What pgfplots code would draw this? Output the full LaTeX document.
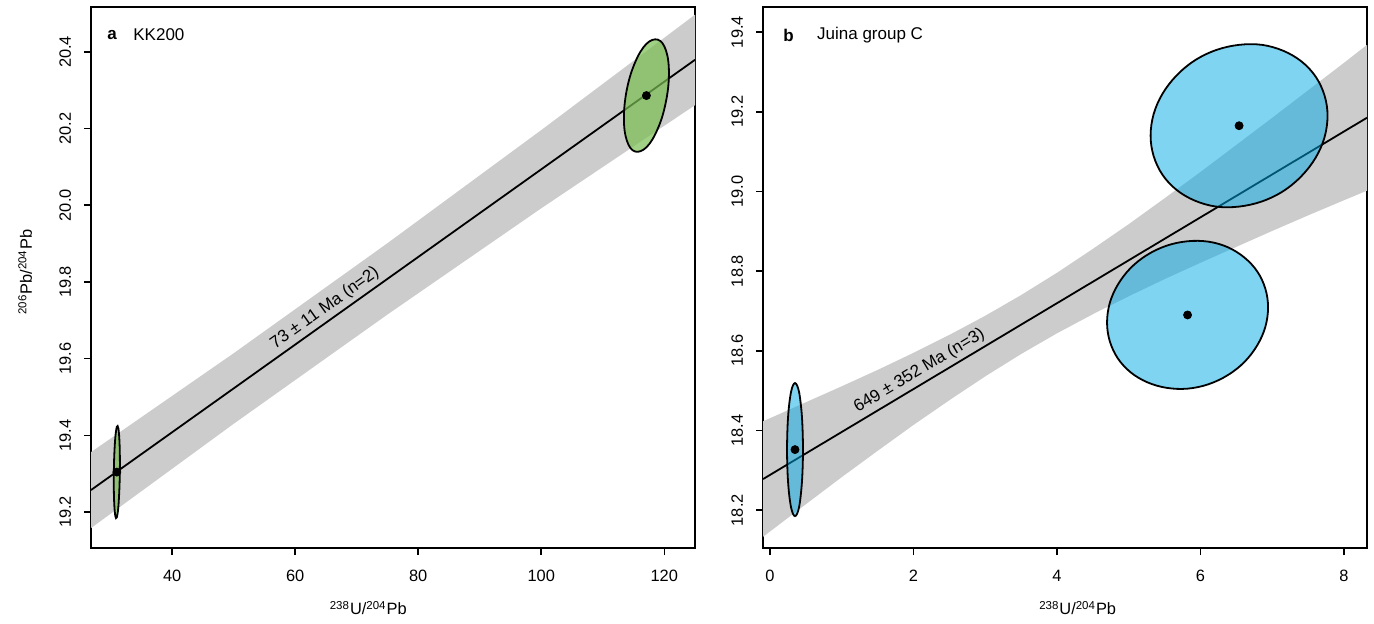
\documentclass[border=0pt]{standalone}
\usepackage{fontspec}
\setmainfont{Liberation Sans}
\usepackage{pgfplots}
\pgfplotsset{compat=1.18}
\definecolor{bandgray}{RGB}{204,204,204}
\definecolor{kkgreen}{RGB}{120,190,80}
\definecolor{juinablue}{RGB}{0,170,230}
\pgfplotsset{
  rstyle/.style={
    scale only axis, width=302pt, height=270.5pt, anchor=south west,
    /pgf/number format/assume math mode=true,
    font=\fontsize{8.2}{10}\selectfont,
    axis line style={line width=0.75pt},
    every tick/.style={black, line width=0.75pt},
    major tick length=3.5pt, tick align=outside,
    xtick pos=bottom, ytick pos=left,
    yticklabel style={rotate=90, anchor=south, /pgf/number format/.cd, fixed, fixed zerofill, precision=1},
    xticklabel shift=4pt, yticklabel shift=3pt,
    every axis y label/.append style={at={(axis description cs:-0.109,0.51)}, anchor=center},
  },
  ell/.style={smooth cycle, tension=0.6, draw=black, line width=0.9pt},
}
\begin{document}
\begin{tikzpicture}
\useasboundingbox (0,0) rectangle (687pt,311.5pt);
% panel a
\begin{axis}[rstyle, at={(45.5pt,37.5pt)},
  xmin=26.8, xmax=125, ymin=19.106, ymax=20.517,
  xtick={40,60,80,100,120}, ytick={19.2,19.4,19.6,19.8,20.0,20.2,20.4},
  xlabel={\textsuperscript{238}U/\textsuperscript{204}Pb},
  ylabel={\textsuperscript{206}Pb/\textsuperscript{204}Pb},
  every axis x label/.append style={at={(axis description cs:0.459,-0.111)}, anchor=center},
]
\addplot[fill=bandgray, draw=none] coordinates {
  (26.8,19.356) (50,19.614) (75,19.901) (100,20.196) (125,20.497)
  (125,20.261) (100,19.992) (75,19.715) (50,19.430) (26.8,19.158)} -- cycle;
\addplot[black, line width=0.9pt] coordinates {(26.8,19.2572) (125,20.3793)};
\addplot[ell, fill=kkgreen, fill opacity=0.7] coordinates {
  (31.50,19.328) (31.48,19.358) (31.43,19.384) (31.35,19.404) (31.25,19.418) (31.13,19.424)
  (31.00,19.422) (30.87,19.411) (30.75,19.394) (30.65,19.370) (30.57,19.342) (30.52,19.311)
  (30.50,19.280) (30.52,19.250) (30.57,19.224) (30.65,19.204) (30.75,19.190) (30.87,19.184)
  (31.00,19.186) (31.13,19.197) (31.25,19.214) (31.35,19.238) (31.43,19.266) (31.48,19.297)};
\addplot[ell, fill=kkgreen, fill opacity=0.7] coordinates {
  (120.76,20.345) (120.64,20.378) (120.27,20.404) (119.69,20.423) (118.93,20.432) (118.05,20.431)
  (117.10,20.421) (116.15,20.401) (115.27,20.373) (114.51,20.340) (113.93,20.303) (113.56,20.264)
  (113.44,20.227) (113.56,20.194) (113.93,20.168) (114.51,20.149) (115.27,20.140) (116.15,20.141)
  (117.10,20.151) (118.05,20.171) (118.93,20.199) (119.69,20.232) (120.27,20.270) (120.64,20.308)};
\addplot[only marks, mark=*, mark size=2pt, black] coordinates {(31.0,19.304) (117.1,20.286)};
\node[anchor=south, rotate=35.5, inner sep=2pt, font=\fontsize{8.5}{10}\selectfont] at (axis cs:66,19.705) {73 ± 11 Ma (n=2)};
\node[anchor=west, inner sep=0pt, font=\fontsize{8.5}{10}\selectfont\bfseries] at (axis description cs:0.0265,0.948) {a};
\node[anchor=west, inner sep=0pt, font=\fontsize{8.5}{10}\selectfont] at (axis description cs:0.0695,0.948) {KK200};
\end{axis}
% panel b
\begin{axis}[rstyle, at={(381.5pt,37.5pt)},
  xmin=-0.098, xmax=8.32, ymin=18.105, ymax=19.463,
  xtick={0,2,4,6,8}, ytick={18.2,18.4,18.6,18.8,19.0,19.2,19.4},
  xlabel={\textsuperscript{238}U/\textsuperscript{204}Pb},
  every axis x label/.append style={at={(axis description cs:0.521,-0.111)}, anchor=center},
]
\addplot[fill=bandgray, draw=none] coordinates {
  (-0.098,18.423) (0.5,18.471) (1,18.511) (1.5,18.552) (2,18.595) (2.5,18.640) (3,18.688) (3.5,18.740)
  (4,18.796) (4.5,18.856) (5,18.918) (5.5,18.983) (6,19.049) (6.5,19.117) (7,19.185) (7.5,19.254) (8,19.323) (8.32,19.368)
  (8.32,19.002) (8,18.978) (7.5,18.940) (7,18.901) (6.5,18.861) (6,18.821) (5.5,18.780) (5,18.737) (4.5,18.692)
  (4,18.644) (3.5,18.592) (3,18.536) (2.5,18.476) (2,18.414) (1.5,18.349) (1,18.283) (0.5,18.215) (-0.098,18.133)} -- cycle;
\addplot[black, line width=0.9pt] coordinates {(-0.098,18.278) (8.32,19.1851)};
\addplot[ell, fill=juinablue, fill opacity=0.5] coordinates {
  (0.459,18.352) (0.455,18.395) (0.444,18.436) (0.426,18.470) (0.404,18.497) (0.377,18.513)
  (0.348,18.519) (0.319,18.513) (0.293,18.497) (0.270,18.470) (0.252,18.436) (0.241,18.395)
  (0.237,18.352) (0.241,18.309) (0.252,18.269) (0.270,18.234) (0.293,18.207) (0.319,18.191)
  (0.348,18.185) (0.377,18.191) (0.404,18.207) (0.426,18.234) (0.444,18.269) (0.455,18.309)};
\addplot[ell, fill=juinablue, fill opacity=0.5] coordinates {
  (6.941,18.709) (6.903,18.756) (6.791,18.799) (6.612,18.834) (6.380,18.860) (6.109,18.874)
  (5.819,18.875) (5.529,18.864) (5.258,18.841) (5.026,18.808) (4.847,18.766) (4.735,18.720)
  (4.697,18.671) (4.735,18.624) (4.847,18.581) (5.026,18.546) (5.258,18.521) (5.529,18.507)
  (5.819,18.505) (6.109,18.516) (6.380,18.539) (6.612,18.572) (6.791,18.614) (6.903,18.660)};
\addplot[ell, fill=juinablue, fill opacity=0.5] coordinates {
  (7.770,19.190) (7.728,19.241) (7.605,19.288) (7.409,19.326) (7.154,19.353) (6.856,19.368)
  (6.537,19.368) (6.218,19.355) (5.920,19.329) (5.665,19.291) (5.469,19.245) (5.346,19.194)
  (5.304,19.140) (5.346,19.089) (5.469,19.042) (5.665,19.004) (5.920,18.977) (6.218,18.962)
  (6.537,18.962) (6.856,18.975) (7.154,19.001) (7.409,19.039) (7.605,19.085) (7.728,19.136)};
\addplot[only marks, mark=*, mark size=2pt, black] coordinates {(0.348,18.352) (5.819,18.690) (6.537,19.165)};
\node[anchor=south, rotate=30.8, inner sep=2pt, font=\fontsize{8.5}{10}\selectfont] at (axis cs:2.17,18.523) {649 ± 352 Ma (n=3)};
\node[anchor=west, inner sep=0pt, font=\fontsize{8.5}{10}\selectfont\bfseries] at (axis description cs:0.033,0.948) {b};
\node[anchor=west, inner sep=0pt, font=\fontsize{8.5}{10}\selectfont] at (axis description cs:0.089,0.948) {Juina group C};
\end{axis}
\end{tikzpicture}
\end{document}
